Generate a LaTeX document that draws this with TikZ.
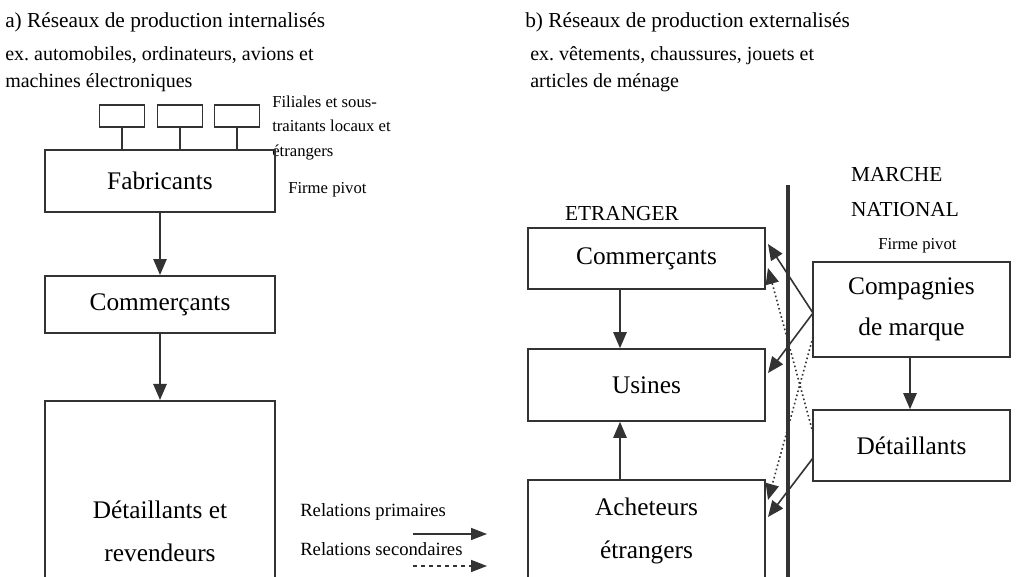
\documentclass[tikz,border=0pt]{standalone}
\usepackage{fontspec}
\setmainfont{Liberation Serif}
\usetikzlibrary{arrows.meta}
\definecolor{ink}{HTML}{333333}
\frenchspacing
\begin{document}
\begin{tikzpicture}[x=0.75pt,y=-0.75pt,
  box/.style={draw=ink, line width=1.2pt, inner sep=0pt, font=\fontsize{19}{23}\selectfont, align=center},
  tiny/.style={draw=ink, line width=1.2pt, minimum width=34pt, minimum height=16.5pt, inner sep=0pt},
  title/.style={anchor=west, inner sep=0pt, font=\fontsize{16}{19}\selectfont},
  sub/.style={anchor=west, inner sep=0pt, font=\fontsize{15}{20}\selectfont, align=left},
  small/.style={anchor=west, inner sep=0pt, font=\fontsize{12.5}{18.5}\selectfont, align=left},
  lab/.style={inner sep=0pt, font=\fontsize{16}{21}\selectfont, align=left},
  prim/.style={draw=ink, line width=1.2pt, -{Triangle[length=12pt,width=10pt]}},
  sec/.style={draw=ink, line width=1.2pt, dotted, -{Triangle[length=12pt,width=10pt]}},
  leg/.style={draw=ink, line width=1.2pt, -{Triangle[length=12pt,width=9pt]}},
]
\useasboundingbox (0,0) rectangle (1018,577);
\clip (0,0) rectangle (1018,577);
% titles
\node[title] (ta) at (5,22) {a) Réseaux de production internalisés};
\node[sub] (sa) at (5,69) {ex. automobiles, ordinateurs, avions et\\machines électroniques};
\node[title] (tb) at (525,22) {b) Réseaux de production externalisés};
\node[sub] (sb) at (530,69) {ex. vêtements, chaussures, jouets et\\articles de ménage};
% left diagram
\node[tiny] (t1) at (122,116) {};
\node[tiny] (t2) at (180,116) {};
\node[tiny] (t3) at (237,116) {};
\node[small] (fil) at (272,128) {Filiales et sous-\\traitants locaux et\\étrangers};
\node[box, minimum width=172.5pt, minimum height=46.5pt] (fab) at (160,181) {Fabricants};
\node[small] (fp1) at (288,190) {Firme pivot};
\draw[draw=ink, line width=1.2pt] (t1.south) -- (t1.south |- fab.north);
\draw[draw=ink, line width=1.2pt] (t2.south) -- (t2.south |- fab.north);
\draw[draw=ink, line width=1.2pt] (t3.south) -- (t3.south |- fab.north);
\node[box, minimum width=172.5pt, minimum height=43pt] (com) at (160,304.5) {Commerçants};
\node[box, minimum width=172.5pt, minimum height=150pt, anchor=north] (det) at (160,400) {};
\node[lab, align=center, font=\fontsize{19}{32}\selectfont] (detl) at (160,531) {Détaillants et\\revendeurs};
\draw[prim] (fab.south) -- (com.north);
\draw[prim] (com.south) -- (det.north);
% legend
\node[small, font=\fontsize{14}{17}\selectfont] (lp) at (300,512) {Relations primaires};
\coordinate (lpa) at (413,534);
\coordinate (lpb) at (487,534);
\draw[leg] (lpa) -- (lpb);
\node[small, font=\fontsize{14}{17}\selectfont] (ls) at (300,549) {Relations secondaires};
\coordinate (lsa) at (413,566);
\coordinate (lsb) at (487,566);
\draw[leg, dashed] (lsa) -- (lsb);
% right diagram
\node[lab, font=\fontsize{16}{19}\selectfont] (etr) at (622,214) {ETRANGER};
\node[lab, align=left, font=\fontsize{16}{26}\selectfont] (mn) at (905,192) {MARCHE\\NATIONAL};
\node[small] (fp2) at (878,246) {Firme pivot};
\node[box, minimum width=177.75pt, minimum height=45.75pt] (cb) at (646.5,258.5) {Commerçants};
\node[box, minimum width=177.75pt, minimum height=54pt] (us) at (646.5,385) {Usines};
\node[box, minimum width=177.75pt, minimum height=150pt, anchor=north] (ach) at (646.5,479) {};
\node[lab, align=center, font=\fontsize{19}{32}\selectfont] (achl) at (646.5,531) {Acheteurs\\étrangers};
\node[box, minimum width=147.75pt, minimum height=71.25pt, font=\fontsize{19}{31}\selectfont] (cm) at (911.5,309.5) {Compagnies\\de marque};
\node[box, minimum width=147.75pt, minimum height=53.25pt] (dt) at (911.5,445.5) {Détaillants};
\coordinate (vt) at (788,185);
\coordinate (vb) at (788,577);
\draw[draw=ink, line width=3pt] (vt) -- (vb);
\draw[prim] (cb.south -| 620,0) -- (us.north -| 620,0);
\draw[prim] (ach.north -| 620,0) -- (us.south -| 620,0);
\draw[prim] (cm.south -| 910,0) -- (dt.north -| 910,0);
% crossing relations
\coordinate (c1) at (813,313);
\coordinate (c2) at (813,337);
\coordinate (d1) at (813,433);
\coordinate (d2) at (813,458);
\coordinate (e1) at (768,244);
\coordinate (e2) at (768,373);
\coordinate (e3) at (768,500);
\coordinate (e4) at (768,268);
\coordinate (e5) at (768,517);
\draw[prim] (c1) -- (e1);
\draw[prim] (c1) -- (e2);
\draw[sec] (c2) -- (e3);
\draw[sec] (d1) -- (e4);
\draw[prim] (d2) -- (e5);
\end{tikzpicture}
\end{document}
